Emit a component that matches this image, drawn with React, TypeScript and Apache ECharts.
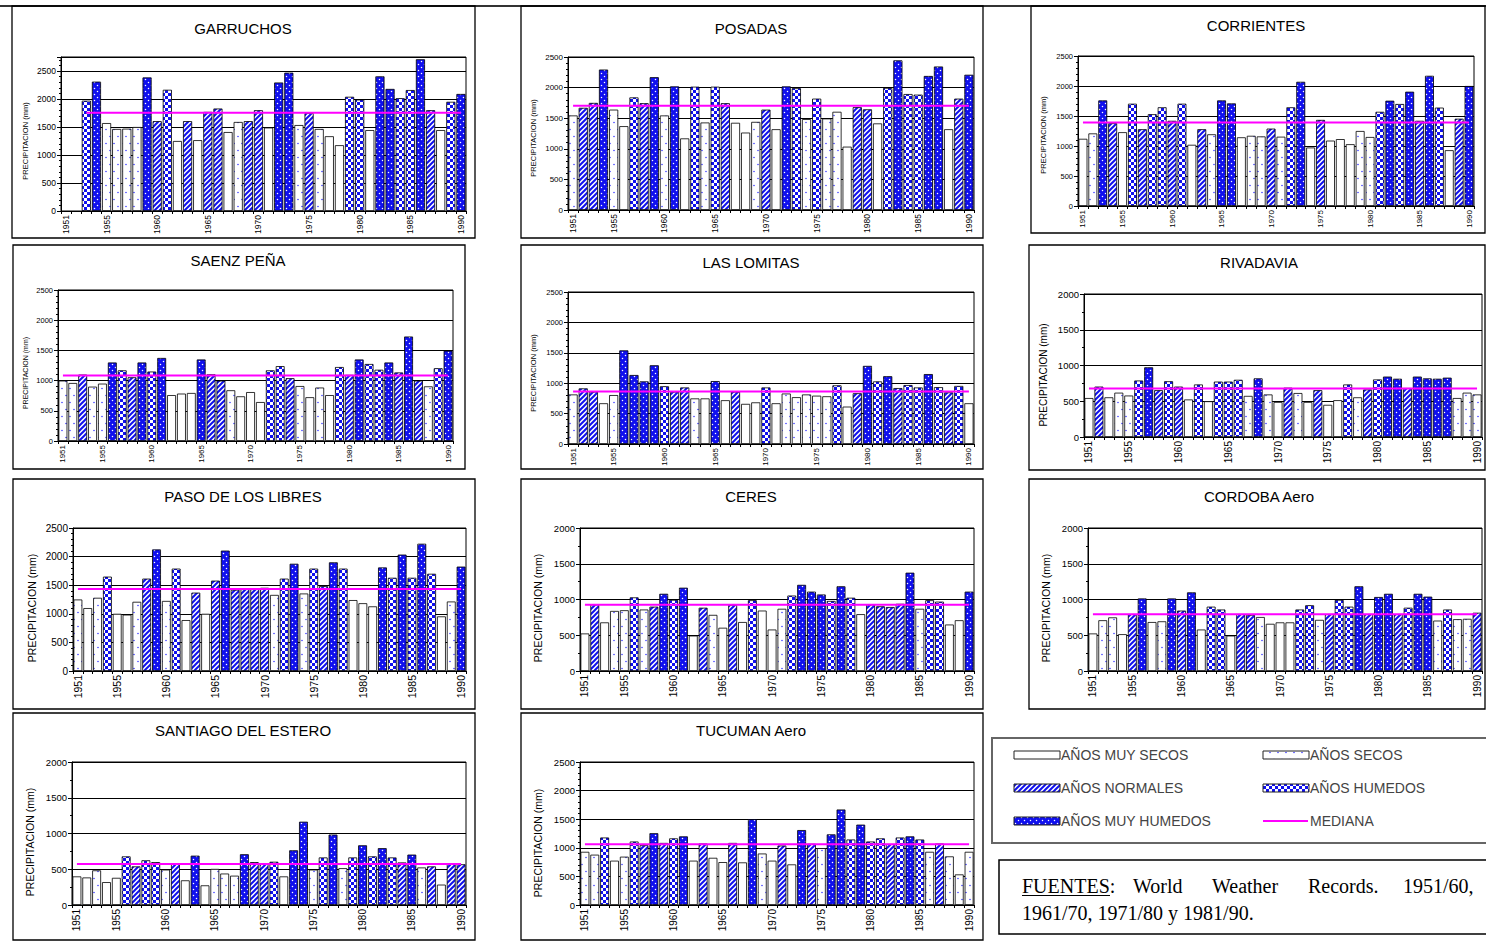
import React, { useEffect, useRef } from "react";
import * as echarts from "echarts";

// ---------------- DATA ----------------
const YEARS = [
  "1951", "1952", "1953", "1954", "1955", "1956", "1957", "1958", "1959", "1960",
  "1961", "1962", "1963", "1964", "1965", "1966", "1967", "1968", "1969", "1970",
  "1971", "1972", "1973", "1974", "1975", "1976", "1977", "1978", "1979", "1980",
  "1981", "1982", "1983", "1984", "1985", "1986", "1987", "1988", "1989", "1990",
];

const STATIONS = [
  "GARRUCHOS", "POSADAS", "CORRIENTES", "SAENZ PEÑA", "LAS LOMITAS", "RIVADAVIA",
  "PASO DE LOS LIBRES", "CERES", "CORDOBA Aero", "SANTIAGO DEL ESTERO", "TUCUMAN Aero",
];

// annual precipitation (mm), 1951..1990
const GARRUCHOS_MM = [null, null, 1970, 2310, 1570, 1465, 1470, 1500, 2385, 1605, 2165, 1250, 1605, 1265, 1770, 1830, 1410, 1590, 1605, 1800, 1490, 2295, 2470, 1535, 1750, 1465, 1335, 1175, 2040, 1990, 1445, 2405, 2180, 2015, 2160, 2710, 1800, 1445, 1950, 2090];
const POSADAS_MM = [1545, 1670, 1750, 2295, 1640, 1370, 1840, 1745, 2170, 1545, 2020, 1170, 2015, 1430, 2015, 1745, 1425, 1265, 1440, 1640, 1320, 2020, 1990, 1485, 1820, 1495, 1605, 1035, 1680, 1645, 1415, 1995, 2445, 1895, 1885, 2190, 2345, 1320, 1820, 2210];
const CORRIENTES_MM = [1120, 1210, 1760, 1380, 1230, 1705, 1280, 1530, 1645, 1420, 1705, 1020, 1280, 1195, 1760, 1710, 1145, 1170, 1160, 1290, 1155, 1645, 2070, 975, 1435, 1090, 1115, 1030, 1250, 1150, 1570, 1755, 1700, 1905, 1420, 2170, 1640, 930, 1455, 2000];
const SAENZ_MM = [1000, 960, 1100, 900, 950, 1300, 1170, 1055, 1300, 1150, 1375, 760, 785, 795, 1350, 1105, 1000, 840, 740, 810, 645, 1170, 1240, 1040, 910, 725, 885, 760, 1225, 1095, 1350, 1275, 1180, 1300, 1135, 1730, 1000, 905, 1205, 1495];
const LOMITAS_MM = [815, 915, 860, 670, 805, 1540, 1135, 1030, 1295, 950, 860, 930, 750, 750, 1035, 720, 860, 660, 685, 930, 670, 830, 770, 815, 795, 785, 965, 615, 835, 1285, 1030, 1115, 920, 970, 930, 1150, 935, 850, 955, 670];
const RIVADAVIA_MM = [545, 705, 555, 620, 580, 790, 975, 655, 780, 705, 525, 735, 500, 775, 775, 800, 575, 820, 595, 490, 690, 615, 490, 655, 450, 515, 735, 555, 665, 805, 845, 815, 685, 845, 820, 815, 830, 545, 620, 595];
const PASO_MM = [1250, 1100, 1280, 1650, 1000, 985, 1210, 1615, 2125, 1225, 1790, 890, 1370, 1000, 1580, 2105, 1420, 1430, 1430, 1455, 1330, 1615, 1875, 1355, 1790, 1485, 1900, 1790, 1240, 1185, 1130, 1810, 1630, 2035, 1630, 2225, 1700, 955, 1215, 1825];
const CERES_MM = [525, 930, 680, 840, 850, 1030, 860, 900, 1080, 995, 1165, 495, 885, 785, 605, 925, 685, 990, 845, 580, 870, 1055, 1205, 1110, 1070, 980, 1185, 1025, 795, 930, 905, 895, 940, 1375, 870, 990, 970, 650, 710, 1110];
const CORDOBA_MM = [525, 710, 750, 515, 795, 1015, 685, 695, 1015, 845, 1100, 580, 900, 860, 495, 795, 785, 755, 660, 680, 680, 860, 920, 715, 795, 995, 900, 1185, 795, 1035, 1080, 795, 885, 1080, 1040, 705, 860, 725, 730, 815];
const SANTIAGO_MM = [400, 385, 485, 320, 380, 680, 540, 625, 600, 495, 580, 345, 690, 275, 505, 440, 410, 710, 600, 575, 605, 400, 765, 1165, 495, 665, 985, 515, 665, 835, 680, 795, 665, 595, 705, 525, 540, 285, 585, 570];
const TUCUMAN_MM = [930, 880, 1180, 775, 845, 1110, 1045, 1255, 1085, 1165, 1200, 775, 1075, 825, 750, 1085, 745, 1500, 900, 775, 1040, 710, 1310, 1070, 995, 1235, 1670, 1145, 1405, 1110, 1165, 1065, 1180, 1200, 1145, 930, 1075, 850, 535, 930];

// year class: M muy seco, S seco, N normal, H humedo, W muy humedo, - sin dato
const GARRUCHOS_CLASS = "--HWSSSSWNHMNMNNMSNNMWWSNSMMHHMWWHHWNMHW";
const POSADAS_CLASS = "SNNWSMHNWSWMHSHNMMSNMWHSHSSMNNMHWHHWWMNW";
const CORRIENTES_CLASS = "MSWNMHNHHNHMNSWWMSSNSHWMNMMMSSHWHWNWHMNW";
const SAENZ_CLASS = "SSNSSWHNWHWMMMWNNSMMMHHNSMSMHNWHHWNWNSHW";
const LOMITAS_CLASS = "SNNMSWWWWHNNSMWMNMMHMSSSSSHMNWHWNHHWHNHM";
const RIVADAVIA_CLASS = "MNMSSHWNHNMHMHHHSWSMNSMNMMHSNHWWNWWWWSSS";
const PASO_CLASS = "SMSHMMSNWSHMNMNWNNNNSHWSHNWHMMMWHWHWHMSW";
const CERES_CLASS = "MNMSSHSNWHWMNSMNMHMMSHWWWHWHMNNNNWSHHMMW";
const CORDOBA_CLASS = "MSSMNWMSWNWMHHMNNSMMMHHSNHHWNWWNHWWSHSSN";
const SANTIAGO_CLASS = "MMSMMHNHHSNMWMSSSWNNHMWWSHWSHWHWHNWSNMNN";
const TUCUMAN_CLASS = "SSHMSHNWNHWMNMMNMWSMNMWNSWWHWHHNHWHSNSSS";

const MEDIANS = [1755, 1705, 1390, 1083, 865, 680, 1435, 925, 795, 572, 1060];

const VALUES = [GARRUCHOS_MM, POSADAS_MM, CORRIENTES_MM, SAENZ_MM, LOMITAS_MM, RIVADAVIA_MM, PASO_MM, CERES_MM, CORDOBA_MM, SANTIAGO_MM, TUCUMAN_MM];
const CLASSES = [GARRUCHOS_CLASS, POSADAS_CLASS, CORRIENTES_CLASS, SAENZ_CLASS, LOMITAS_CLASS, RIVADAVIA_CLASS, PASO_CLASS, CERES_CLASS, CORDOBA_CLASS, SANTIAGO_CLASS, TUCUMAN_CLASS];

const Y_MAX = [2750, 2500, 2500, 2500, 2500, 2000, 2500, 2000, 2000, 2000, 2500];

const LEGEND_ITEMS = [
  { key: "M", label: "AÑOS MUY SECOS" },
  { key: "S", label: "AÑOS SECOS" },
  { key: "N", label: "AÑOS NORMALES" },
  { key: "H", label: "AÑOS HUMEDOS" },
  { key: "W", label: "AÑOS MUY HUMEDOS" },
  { key: "L", label: "MEDIANA" },
];

// ---------------- LAYOUT ----------------
type Layout = {
  box: number[]; title: number[]; grid: number[];
  yFont: number; xFont: number; nameFont: number; nameX: number; nameY: number; minor: number;
};
const LAYOUT: Layout[] = [
  { box: [12, 6, 463, 232], title: [243, 28], grid: [61, 57, 405, 154], yFont: 8.5, xFont: 8.5, nameFont: 7.5, nameX: 25, nameY: 141, minor: 5 },
  { box: [521, 6, 462, 232], title: [751, 28], grid: [568, 57, 406, 153], yFont: 8, xFont: 8.5, nameFont: 7.5, nameX: 533, nameY: 138, minor: 5 },
  { box: [1031, 6, 454, 227], title: [1256, 25], grid: [1078, 56, 396, 150], yFont: 7.5, xFont: 8, nameFont: 7.5, nameX: 1043, nameY: 135, minor: 5 },
  { box: [13, 245, 452, 224], title: [238, 260], grid: [58, 290, 395, 151], yFont: 7.5, xFont: 8, nameFont: 7, nameX: 25, nameY: 373, minor: 5 },
  { box: [521, 245, 462, 224], title: [751, 262], grid: [568, 292, 406, 152], yFont: 7.5, xFont: 8, nameFont: 7.5, nameX: 533, nameY: 373, minor: 5 },
  { box: [1029, 245, 456, 225], title: [1259, 262], grid: [1084, 294, 398, 143], yFont: 9.5, xFont: 10, nameFont: 10, nameX: 1043, nameY: 375, minor: 2 },
  { box: [13, 479, 462, 230], title: [243, 496], grid: [73, 528, 393, 143], yFont: 10, xFont: 10.5, nameFont: 10.5, nameX: 32, nameY: 608, minor: 5 },
  { box: [521, 479, 462, 230], title: [751, 496], grid: [580, 528, 394, 143], yFont: 9.5, xFont: 10, nameFont: 10.5, nameX: 538, nameY: 608, minor: 2 },
  { box: [1029, 479, 456, 230], title: [1259, 496], grid: [1088, 528, 394, 143], yFont: 9.5, xFont: 10, nameFont: 10.5, nameX: 1046, nameY: 608, minor: 2 },
  { box: [13, 713, 462, 227], title: [243, 730], grid: [72, 762, 394, 143], yFont: 9.5, xFont: 10, nameFont: 10.5, nameX: 30, nameY: 842, minor: 2 },
  { box: [521, 713, 462, 227], title: [751, 730], grid: [580, 762, 394, 143], yFont: 9.5, xFont: 10, nameFont: 10.5, nameX: 538, nameY: 843, minor: 5 },
];

const FONT = "Liberation Sans";
const BLUE = "#1010ee";

function svgUrl(s: string) {
  return "data:image/svg+xml;charset=utf-8," + encodeURIComponent(s);
}
function pat(svg: string, w: number, h: number) {
  return { image: svgUrl(svg), repeat: "repeat", imageWidth: w, imageHeight: h };
}

const FILLS: Record<string, any> = {
  M: "#ffffff",
  S: pat(`<svg xmlns='http://www.w3.org/2000/svg' width='8' height='14'><rect width='8' height='14' fill='#ffffff'/><circle cx='2' cy='3.5' r='0.8' fill='#4040ff'/><circle cx='6' cy='10.5' r='0.8' fill='#4040ff'/></svg>`, 8, 14),
  N: pat(`<svg xmlns='http://www.w3.org/2000/svg' width='5' height='5'><rect width='5' height='5' fill='#ffffff'/><path d='M-1,1 L1,-1 M0,5 L5,0 M4,6 L6,4' stroke='${BLUE}' stroke-width='2'/></svg>`, 5, 5),
  H: pat(`<svg xmlns='http://www.w3.org/2000/svg' width='6' height='6'><rect width='6' height='6' fill='${BLUE}'/><rect x='0' y='0' width='3' height='3' fill='#ffffff'/><rect x='3' y='3' width='3' height='3' fill='#ffffff'/></svg>`, 6, 6),
  W: pat(`<svg xmlns='http://www.w3.org/2000/svg' width='6' height='6'><rect width='6' height='6' fill='${BLUE}'/><circle cx='1.5' cy='1.5' r='0.75' fill='#ffffff'/><circle cx='4.5' cy='4.5' r='0.75' fill='#ffffff'/></svg>`, 6, 6),
};

function buildOption() {
  const grid: any[] = [];
  const xAxis: any[] = [];
  const yAxis: any[] = [];
  const series: any[] = [];
  const elements: any[] = [];

  elements.push({ type: "line", shape: { x1: 0, y1: 6, x2: 1486, y2: 6 }, style: { stroke: "#333", lineWidth: 2 } });

  STATIONS.forEach((name, k) => {
    const L = LAYOUT[k];
    const vals = VALUES[k];
    const cls = CLASSES[k].split("");
    grid.push({
      left: L.grid[0], top: L.grid[1], width: L.grid[2], height: L.grid[3],
      show: true, borderColor: "#000", borderWidth: 1, backgroundColor: "transparent",
    });
    xAxis.push({
      type: "category", gridIndex: k, data: YEARS, boundaryGap: true,
      axisLine: { lineStyle: { color: "#000", width: 1 } },
      axisTick: { show: true, interval: 0, length: 3, lineStyle: { color: "#000" } },
      axisLabel: {
        interval: (i: number, v: string) => i === 0 || Number(v) % 5 === 0,
        rotate: 90, fontSize: L.xFont, fontFamily: FONT, color: "#000", margin: 4,
      },
      splitLine: { show: false },
    });
    yAxis.push({
      type: "value", gridIndex: k, min: 0, max: Y_MAX[k], interval: 500,
      axisLine: { show: true, lineStyle: { color: "#000" } },
      axisTick: { show: true, length: 4, lineStyle: { color: "#000" } },
      minorTick: { show: true, splitNumber: L.minor, length: 2, lineStyle: { color: "#000" } },
      splitLine: { show: true, lineStyle: { color: "#000", width: 1 } },
      axisLabel: {
        fontSize: L.yFont, fontFamily: FONT, color: "#000", margin: 5,
        formatter: (v: number) => (v % 500 === 0 ? String(v) : ""),
      },
    });
    series.push({
      type: "bar", xAxisIndex: k, yAxisIndex: k, barCategoryGap: "10%", silent: true,
      itemStyle: { borderColor: "#000", borderWidth: 0.8 },
      data: vals.map((v, i) => (v == null ? "-" : { value: v, itemStyle: { color: FILLS[cls[i]] } })),
    });
    series.push({
      type: "line", xAxisIndex: k, yAxisIndex: k, silent: true, symbol: "none", z: 5,
      lineStyle: { color: "#ff00ff", width: 2 },
      data: vals.map((v) => (v == null ? "-" : MEDIANS[k])),
    });

    elements.push({
      type: "rect", shape: { x: L.box[0], y: L.box[1], width: L.box[2], height: L.box[3] },
      style: { fill: "transparent", stroke: "#000", lineWidth: 1.3 },
    });
    elements.push({
      type: "text", x: L.title[0], y: L.title[1],
      style: { text: name, fontSize: 15, fontFamily: FONT, fill: "#000", align: "center", verticalAlign: "middle" },
    });
    elements.push({
      type: "text", x: L.nameX, y: L.nameY, rotation: Math.PI / 2,
      style: { text: "PRECIPITACION (mm)", fontSize: L.nameFont, fontFamily: FONT, fill: "#000", align: "center", verticalAlign: "middle" },
    });
  });

  // legend box
  elements.push({
    type: "rect", shape: { x: 992, y: 738, width: 500, height: 105 },
    style: { fill: "#fff", stroke: "#666", lineWidth: 2 },
  });
  const cols = [1014, 1263];
  const rows = [755, 788, 821];
  LEGEND_ITEMS.forEach((it, idx) => {
    const cx = cols[idx % 2];
    const cy = rows[Math.floor(idx / 2)];
    if (it.key === "L") {
      elements.push({ type: "line", shape: { x1: cx, y1: cy, x2: cx + 45, y2: cy }, style: { stroke: "#ff00ff", lineWidth: 2 } });
    } else {
      elements.push({
        type: "rect", shape: { x: cx, y: cy - 4, width: 46, height: 8 },
        style: { fill: FILLS[it.key], stroke: "#222", lineWidth: 1 },
      });
    }
    elements.push({
      type: "text", x: cx + 47, y: cy,
      style: { text: it.label, fontSize: 14, fontFamily: FONT, fill: "#444", align: "left", verticalAlign: "middle" },
    });
  });

  // sources box
  elements.push({
    type: "rect", shape: { x: 999, y: 860, width: 495, height: 74 },
    style: { fill: "#fff", stroke: "#000", lineWidth: 1.5 },
  });
  const serif = "Liberation Serif";
  const words: [string, number][] = [["FUENTES:", 1022], ["World", 1133], ["Weather", 1212], ["Records.", 1308], ["1951/60,", 1403]];
  words.forEach(([w, x]) => {
    elements.push({ type: "text", x, y: 886, style: { text: w, fontSize: 20, fontFamily: serif, fill: "#000", align: "left", verticalAlign: "middle" } });
  });
  elements.push({ type: "line", shape: { x1: 1022, y1: 895.5, x2: 1110, y2: 895.5 }, style: { stroke: "#000", lineWidth: 1 } });
  elements.push({ type: "text", x: 1022, y: 913, style: { text: "1961/70, 1971/80 y 1981/90.", fontSize: 20, fontFamily: serif, fill: "#000", align: "left", verticalAlign: "middle" } });

  return {
    animation: false,
    backgroundColor: "#ffffff",
    grid, xAxis, yAxis, series,
    graphic: { elements },
  };
}

export default function App() {
  const ref = useRef<HTMLDivElement>(null);
  useEffect(() => {
    document.body.style.margin = "0";
    const chart = echarts.init(ref.current as HTMLDivElement, null, { renderer: "svg" });
    chart.setOption(buildOption() as any);
    return () => chart.dispose();
  }, []);
  return <div ref={ref} style={{ width: 1486, height: 941 }} />;
}
